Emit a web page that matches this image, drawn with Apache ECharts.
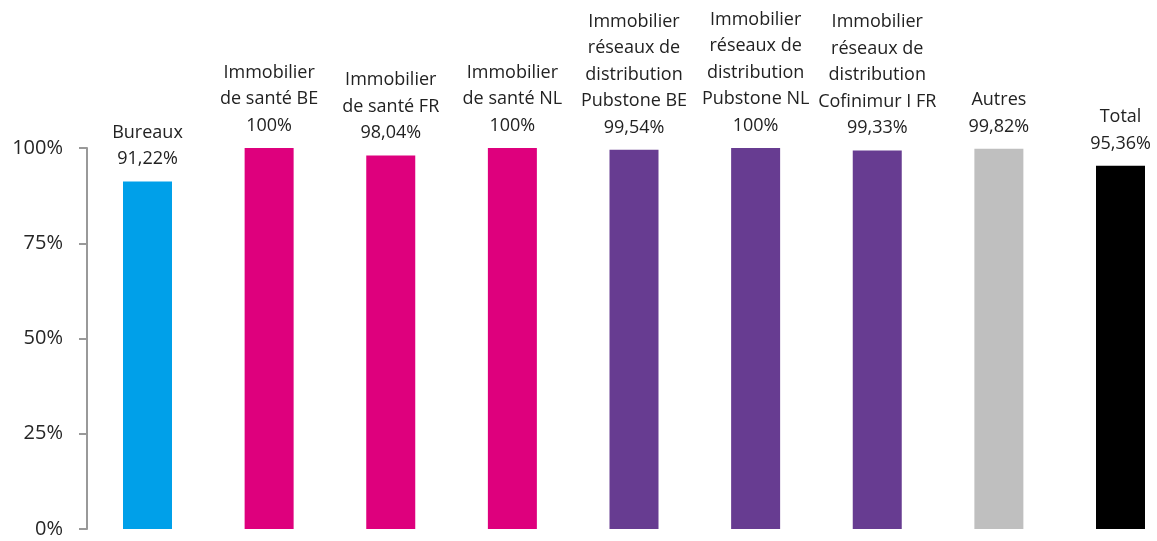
<!DOCTYPE html>
<html>
<head>
<meta charset="utf-8">
<script src="https://cdn.jsdelivr.net/npm/echarts@6/dist/echarts.min.js"></script>
<style>html,body{margin:0;padding:0;background:#fff}#c{width:1157px;height:541px}</style>
</head>
<body>
<div id="c"></div>
<script>
const categories = [
  "Bureaux",
  "Immobilier\nde santé BE",
  "Immobilier\nde santé FR",
  "Immobilier\nde santé NL",
  "Immobilier\nréseaux de\ndistribution\nPubstone BE",
  "Immobilier\nréseaux de\ndistribution\nPubstone NL",
  "Immobilier\nréseaux de\ndistribution\nCofinimur I FR",
  "Autres",
  "Total"
];
const values = [91.22, 100, 98.04, 100, 99.54, 100, 99.33, 99.82, 95.36];
const barColors = ["#00A0E9", "#DE007D", "#DE007D", "#DE007D", "#673C91", "#673C91", "#673C91", "#BFBFBF", "#000000"];
const yTicks = [0, 25, 50, 75, 100];

const fontFam = "'Open Sans', 'Noto Sans', sans-serif";
function fmt(v) {
  let s = (Math.round(v * 100) / 100).toString().replace('.', ',');
  return s + '%';
}
const chart = echarts.init(document.getElementById('c'));
chart.setOption({
  animation: false,
  grid: { left: 147.5, top: 148, height: 381, width: 973 },
  xAxis: {
    type: 'category',
    data: categories,
    boundaryGap: false,
    axisLine: { show: false },
    axisTick: { show: false },
    axisLabel: { show: false }
  },
  yAxis: {
    type: 'value',
    offset: 60.5,
    min: yTicks[0],
    max: yTicks[yTicks.length - 1],
    interval: 25,
    axisLine: { show: true, lineStyle: { color: '#999999', width: 2 } },
    axisTick: { show: true, length: 8, lineStyle: { color: '#999999', width: 2 } },
    splitLine: { show: false },
    axisLabel: {
      margin: 24,
      formatter: '{value}%',
      color: '#262626',
      fontSize: 20,
      fontFamily: fontFam
    }
  },
  series: [{
    type: 'bar',
    clip: false,
    barWidth: 49,
    data: values.map((v, i) => ({ value: v, itemStyle: { color: barColors[i] } })),
    label: {
      show: true,
      position: 'top',
      distance: 9,
      color: '#222222',
      fontSize: 18,
      lineHeight: 26.5,
      fontFamily: fontFam,
      formatter: p => categories[p.dataIndex] + '\n' + fmt(p.value)
    }
  }]
});
</script>
</body>
</html>
